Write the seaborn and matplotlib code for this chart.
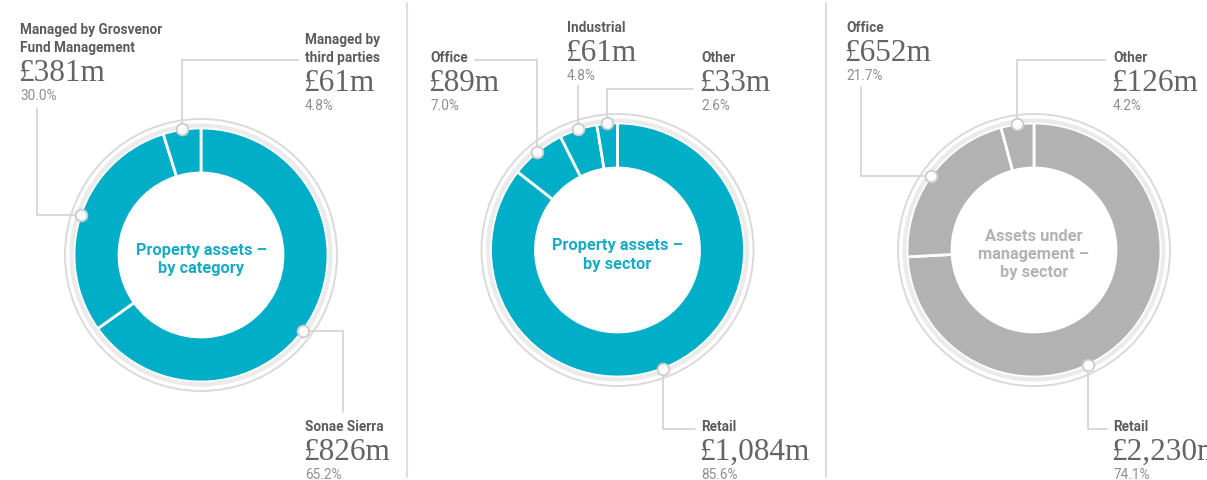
import numpy as np
import matplotlib
matplotlib.use("Agg")
import matplotlib.pyplot as plt
import seaborn as sns

# ---- data ----
cat_labels = ["Sonae Sierra", "Managed by Grosvenor\nFund Management", "Managed by\nthird parties"]
cat_values = [826, 381, 61]
cat_pcts = [65.2, 30.0, 4.8]

sec_labels = ["Retail", "Office", "Industrial", "Other"]
sec_values = [1084, 89, 61, 33]
sec_pcts = [85.6, 7.0, 4.8, 2.6]

aum_labels = ["Retail", "Office", "Other"]
aum_values = [2230, 652, 126]
aum_pcts = [74.1, 21.7, 4.2]

titles = ["Property assets –\nby category", "Property assets –\nby sector",
          "Assets under\nmanagement –\nby sector"]

# ---- style ----
W, H = 1207, 481
TEAL = "#00aec7"
GREY = "#b2b2b2"
NAME_C = "#5c5c5c"
VAL_C = "#646464"
PCT_C = "#8f8f8f"
LINE_C = "#d2d2d2"
R_OUT, R_IN = 127, 82

sns.set_theme(style="white")
plt.rcParams["font.family"] = ["Roboto", "DejaVu Sans"]

# layout per chart: centre (pixels) and, per slice, label spot + leader route
# base = baseline of the last line of the name
# leader: ("hv", x, y_end) horizontal then vertical, ("vh", y, x_end) vertical then horizontal
# shift: move the anchor dot along the ring (in percent of the ring)
charts = [
    dict(labels=cat_labels, values=cat_values, pcts=cat_pcts, color=TEAL, title_c="#17abc5",
         centre=(201, 256),
         spots=[dict(x=305, base=431, leader=("hv", 343, 413), shift=2.6),
                dict(x=20, base=52, leader=("hv", 37, 110), shift=0),
                dict(x=305, base=62, leader=("vh", 61, 298), shift=0)]),
    dict(labels=sec_labels, values=sec_values, pcts=sec_pcts, color=TEAL, title_c="#17abc5",
         centre=(617.5, 251),
         spots=[dict(x=701, base=431, leader=("vh", 430, 695), shift=1.4),
                dict(x=430, base=62, leader=("vh", 61, 475), shift=0),
                dict(x=567, base=32, leader=("vh", 87, None), shift=0),
                dict(x=701, base=62, leader=("vh", 90, 693), shift=0)]),
    dict(labels=aum_labels, values=aum_values, pcts=aum_pcts, color=GREY, title_c="#b3b3b3",
         centre=(1034, 251),
         spots=[dict(x=1113, base=431, leader=("vh", 430, 1107), shift=6.0),
                dict(x=846, base=32, leader=("hv", 861, 88), shift=0),
                dict(x=1113, base=62, leader=("vh", 61, 1105), shift=0)]),
]

fig = plt.figure(figsize=(W / 100, H / 100), dpi=100)
ax = fig.add_axes([0, 0, 1, 1])

dots_x, dots_y = [], []
for ch in charts:
    cx, cy = ch["centre"]
    vals = np.array(ch["values"], dtype=float)
    # y axis is inverted later, so counterclock=True draws clockwise on screen
    ax.pie(vals, radius=R_OUT, center=(cx, cy), startangle=-90, counterclock=True,
           colors=[ch["color"]] * len(vals), frame=False,
           wedgeprops=dict(width=R_OUT - R_IN, edgecolor="white", linewidth=2))
    ax.add_patch(plt.Circle((cx, cy), 129.5, fill=False, ec="#ebebeb", lw=3, zorder=1))
    ax.add_patch(plt.Circle((cx, cy), 136, fill=False, ec="#dadada", lw=1.4, zorder=1))

    frac = vals / vals.sum()
    mids = np.cumsum(frac) - frac / 2
    for lab, v, p, mid, sp in zip(ch["labels"], ch["values"], ch["pcts"], mids, ch["spots"]):
        th = 2 * np.pi * (mid + sp["shift"] / 100)
        dx, dy = cx + R_OUT * np.sin(th), cy - R_OUT * np.cos(th)
        dots_x.append(dx)
        dots_y.append(dy)
        kind, a, b = sp["leader"]
        if kind == "hv":
            xs, ys = [dx, a, a], [dy, dy, b]
        else:
            xs, ys = [dx, dx, dx if b is None else b], [dy, a, a]
        ax.plot(xs, ys, color=LINE_C, lw=1.2, zorder=2, solid_joinstyle="miter")

        ax.text(sp["x"], sp["base"], lab, ha="left", va="baseline", fontsize=9.8,
                fontweight="bold", color=NAME_C, linespacing=1.35)
        vb = sp["base"] + 29
        ax.text(sp["x"] - 2, vb, f"£{v:,}m", ha="left", va="baseline",
                family=["Liberation Serif", "DejaVu Serif"], fontsize=22.5, color=VAL_C)
        ax.text(sp["x"], vb + 19, f"{p:.1f}%", ha="left", va="baseline",
                fontsize=9.8, color=PCT_C)

for t, ch in zip(titles, charts):
    cx, cy = ch["centre"]
    ax.text(cx, cy + 4, t, ha="center", va="center", fontsize=11.8, fontweight="semibold",
            color=ch["title_c"], linespacing=1.25)

sns.scatterplot(x=dots_x, y=dots_y, ax=ax, s=70, color="white", edgecolor="#cdcdcd",
                linewidth=1.4, zorder=5, legend=False)

# column dividers
for x in (407, 826):
    ax.plot([x, x], [4, 478], color="#dedede", lw=1.5, zorder=0)

ax.set_xlim(0, W)
ax.set_ylim(H, 0)
ax.set_aspect("equal")
ax.axis("off")
fig.savefig("out.png", dpi=100)
